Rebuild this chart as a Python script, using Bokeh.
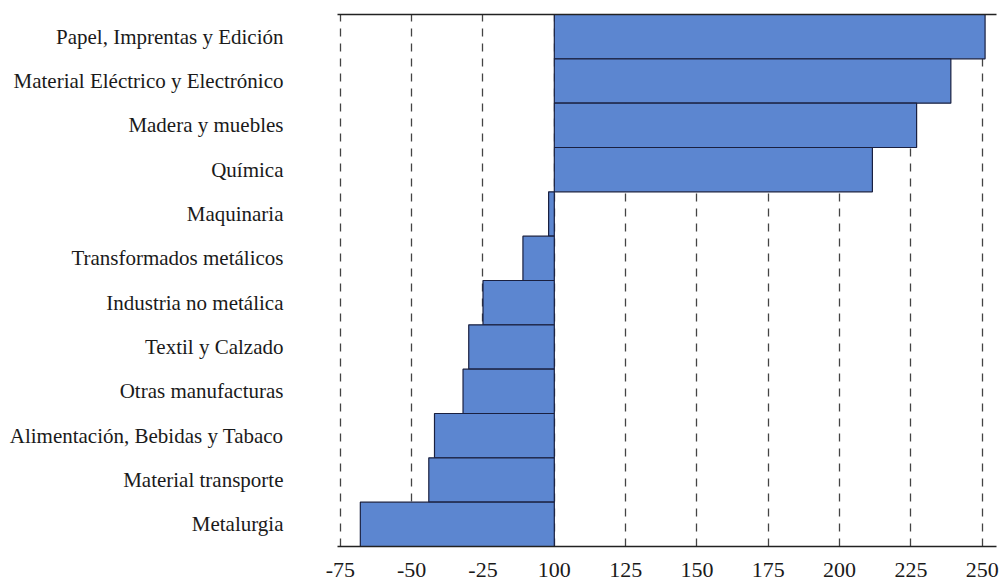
from bokeh.plotting import figure
from bokeh.models import ColumnDataSource, FactorRange, Range1d, FixedTicker, LinearAxis
from bokeh.embed import file_html
from bokeh.resources import INLINE

# ---- data ----
categories = [
    "Papel, Imprentas y Edición",
    "Material Eléctrico y Electrónico",
    "Madera y muebles",
    "Química",
    "Maquinaria",
    "Transformados metálicos",
    "Industria no metálica",
    "Textil y Calzado",
    "Otras manufacturas",
    "Alimentación, Bebidas y Tabaco",
    "Material transporte",
    "Metalurgia",
]
values = [251, 239, 227, 211.5, -2, -11, -25, -30, -32, -42, -44, -68]
tick_labels = [-75, -50, -25, 100, 125, 150, 175, 200, 225, 250]

# broken axis: negative values left of the base, index values (base 100) right of it
BASE = 100


def to_pos(v):
    return v - BASE if v >= BASE else v


positions = [to_pos(v) for v in values]
tick_pos = [to_pos(t) for t in tick_labels]

source = ColumnDataSource(dict(cat=categories, right=positions))

FONT = "Liberation Serif"
TEXT = "#1a1a1a"

p = figure(
    width=1000, height=581,
    y_range=FactorRange(factors=list(reversed(categories)), range_padding=0),
    x_range=Range1d(-76, 155),
    output_backend="svg", toolbar_location=None,
    min_border_left=337, min_border_right=4, min_border_top=14, min_border_bottom=35,
)
p.outline_line_color = None
p.background_fill_color = "white"
p.border_fill_color = "white"

p.hbar(y="cat", left=0, right="right", height=1.0, source=source,
       fill_color="#5c86d0", line_color="#1a2040", line_width=1.2)

# x axis (below)
xa = p.xaxis[0]
xa.ticker = FixedTicker(ticks=tick_pos)
xa.major_label_overrides = {tp: str(t) for tp, t in zip(tick_pos, tick_labels)}
xa.major_tick_line_color = None
xa.minor_tick_line_color = None
xa.axis_line_color = "#222222"
xa.axis_line_width = 1.6
xa.major_label_standoff = 10
xa.major_label_text_font = FONT
xa.major_label_text_font_size = "22px"
xa.major_label_text_color = TEXT

# top frame line
top = LinearAxis(ticker=FixedTicker(ticks=[]), axis_line_color="#222222", axis_line_width=1.6,
                 major_tick_line_color=None, minor_tick_line_color=None,
                 major_label_text_font_size="0px", major_label_standoff=0)
p.add_layout(top, "above")

# y axis
ya = p.yaxis[0]
ya.axis_line_color = None
ya.major_tick_line_color = None
ya.minor_tick_line_color = None
ya.major_label_standoff = 48
ya.major_label_text_font = FONT
ya.major_label_text_font_size = "21px"
ya.major_label_text_color = TEXT

# grid
p.ygrid.grid_line_color = None
p.xgrid.ticker = FixedTicker(ticks=tick_pos)
p.xgrid.grid_line_color = "#444444"
p.xgrid.grid_line_width = 1.3
p.xgrid.grid_line_dash = "8 7"

open("out.html", "w").write(file_html(p, INLINE))
